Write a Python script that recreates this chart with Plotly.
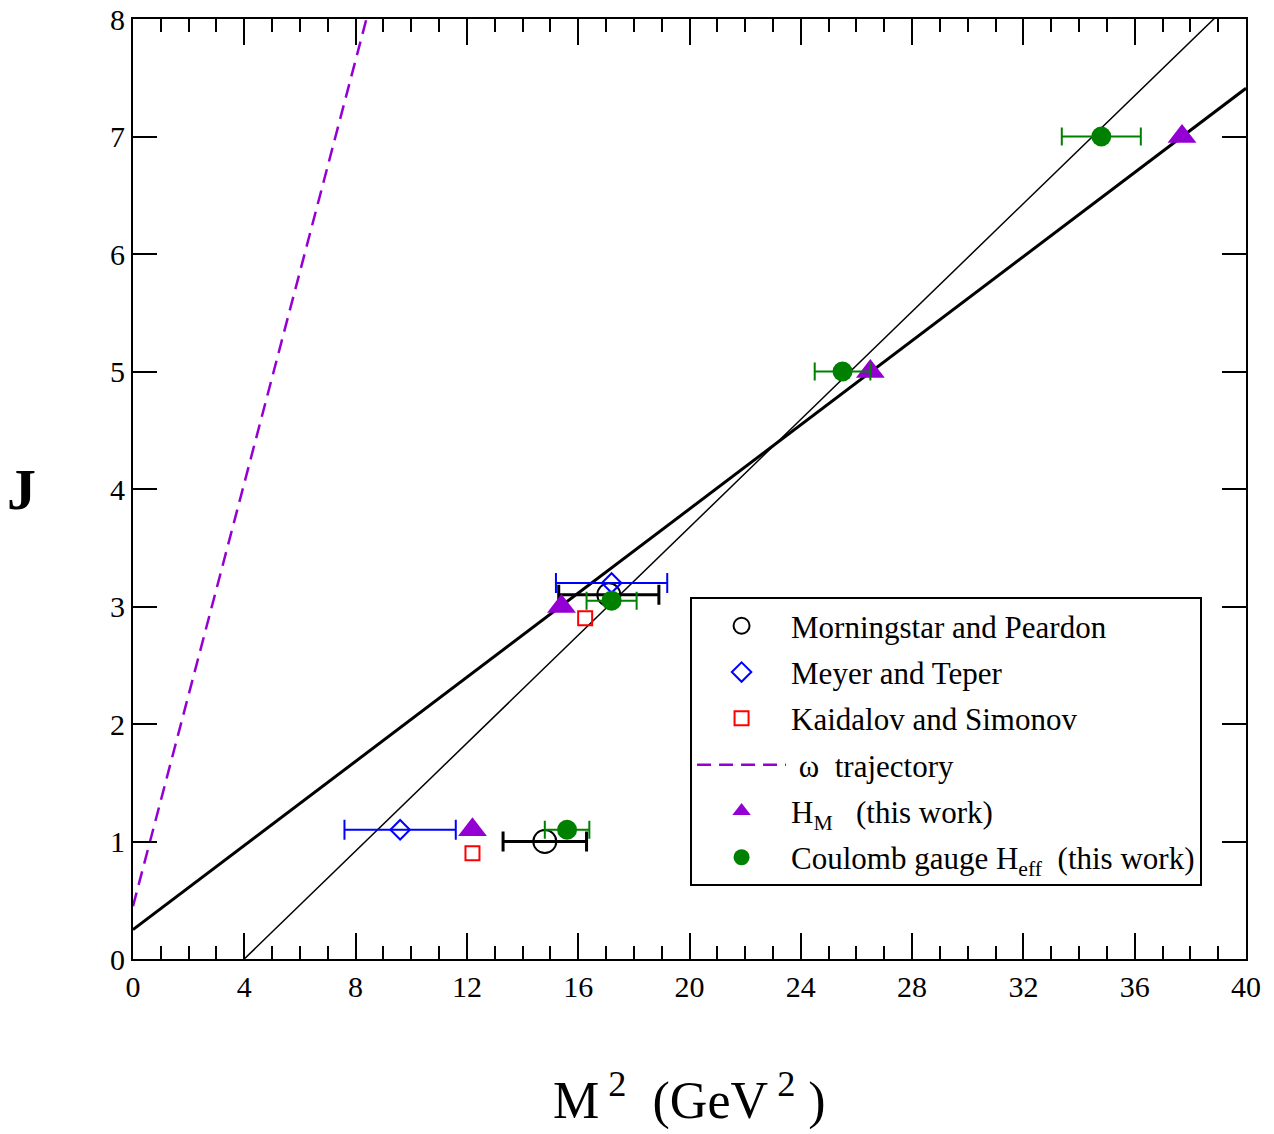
import plotly.graph_objects as go

# ---- data ----
mp_m2 = [14.8, 17.1]
mp_j = [1.0, 3.1]
mp_err = [1.5, 1.8]

mt_m2 = [9.6, 17.2]
mt_j = [1.1, 3.2]
mt_err = [2.0, 2.0]

ks_m2 = [12.2, 16.25]
ks_j = [0.9, 2.9]

hm_m2 = [12.2, 15.4, 26.5, 37.7]
hm_j = [1.1, 3.0, 5.0, 7.0]

cg_m2 = [15.6, 17.2, 25.5, 34.8]
cg_j = [1.1, 3.05, 5.0, 7.0]
cg_err = [0.8, 0.9, 1.0, 1.42]

# trajectory lines: J = intercept + slope * M^2
omega_intercept, omega_slope = 0.45, 0.9
thick_intercept, thick_slope = 0.25, 0.179
thin_intercept, thin_slope = -0.918, 0.2296
line_x = [0, 40]

x_ticks = [0, 4, 8, 12, 16, 20, 24, 28, 32, 36, 40]
y_ticks = [0, 1, 2, 3, 4, 5, 6, 7, 8]

FONT = "Liberation Serif"

fig = go.Figure()

fig.add_trace(go.Scatter(
    x=line_x, y=[thick_intercept + thick_slope * v for v in line_x],
    mode="lines", line=dict(color="black", width=3), showlegend=False))
fig.add_trace(go.Scatter(
    x=line_x, y=[thin_intercept + thin_slope * v for v in line_x],
    mode="lines", line=dict(color="black", width=1.5), showlegend=False))

fig.add_trace(go.Scatter(
    x=mp_m2, y=mp_j, mode="markers", name="Morningstar and Peardon", legendgroup="a",
    marker=dict(symbol="circle-open", size=23, color="black", line=dict(width=2)),
    error_x=dict(type="data", array=mp_err, color="black", thickness=3, width=10)))
fig.add_trace(go.Scatter(
    x=mt_m2, y=mt_j, mode="markers", name="Meyer and Teper", legendgroup="b",
    marker=dict(symbol="diamond-open", size=15, color="blue", line=dict(width=2)),
    error_x=dict(type="data", array=mt_err, color="blue", thickness=2, width=10)))
fig.add_trace(go.Scatter(
    x=ks_m2, y=ks_j, mode="markers", name="Kaidalov and Simonov", legendgroup="c",
    marker=dict(symbol="square-open", size=14, color="red", line=dict(width=2))))
fig.add_trace(go.Scatter(
    x=line_x, y=[omega_intercept + omega_slope * v for v in line_x],
    mode="lines", name=" ω  trajectory", legendgroup="d",
    line=dict(color="#9400D3", width=2.5, dash="14px,8px")))
fig.add_trace(go.Scatter(
    x=hm_m2, y=hm_j, mode="markers", name="H<sub>M</sub>   (this work)", legendgroup="e",
    marker=dict(symbol="triangle-up", size=25, color="#9400D3")))
fig.add_trace(go.Scatter(
    x=cg_m2, y=cg_j, mode="markers", name="Coulomb gauge H<sub>eff</sub>  (this work)",
    legendgroup="f",
    marker=dict(symbol="circle", size=20, color="#008000"),
    error_x=dict(type="data", array=cg_err, color="#008000", thickness=2, width=9)))

axis_common = dict(
    showgrid=False, zeroline=False, showline=True, linecolor="black", linewidth=2,
    ticks="inside", mirror="allticks", tickcolor="black", tickwidth=2,
    tickfont=dict(family=FONT, size=30, color="black"), automargin=False,
    ticklabeloverflow="allow",
)

fig.update_xaxes(range=[0, 40], tickvals=x_ticks, ticklen=26,
                 minor=dict(dtick=1, ticks="inside", ticklen=13, tickwidth=2, tickcolor="black"),
                 **axis_common)
fig.update_yaxes(range=[0, 8], tickvals=y_ticks, ticklen=24, **axis_common)

fig.add_annotation(text="M<sup> 2</sup>  (GeV<sup> 2</sup> )", xref="paper", yref="paper",
                   x=0.5, y=-0.147, showarrow=False,
                   font=dict(family=FONT, size=52, color="black"),
                   xanchor="center", yanchor="middle")
fig.add_annotation(text="<b>J</b>", xref="paper", yref="paper", x=-0.1, y=0.499,
                   showarrow=False, font=dict(family=FONT, size=58, color="black"),
                   xanchor="center", yanchor="middle")

fig.update_layout(
    width=1266, height=1126,
    margin=dict(l=125, r=28, t=11, b=175),
    plot_bgcolor="white", paper_bgcolor="white",
    font=dict(family=FONT, color="black"),
    legend=dict(x=0.5005, y=0.385, xanchor="left", yanchor="top",
                bgcolor="white", bordercolor="black", borderwidth=2,
                font=dict(family=FONT, size=31, color="black"),
                itemwidth=89, traceorder="grouped", tracegroupgap=3),
)

fig.write_html("out.html")
